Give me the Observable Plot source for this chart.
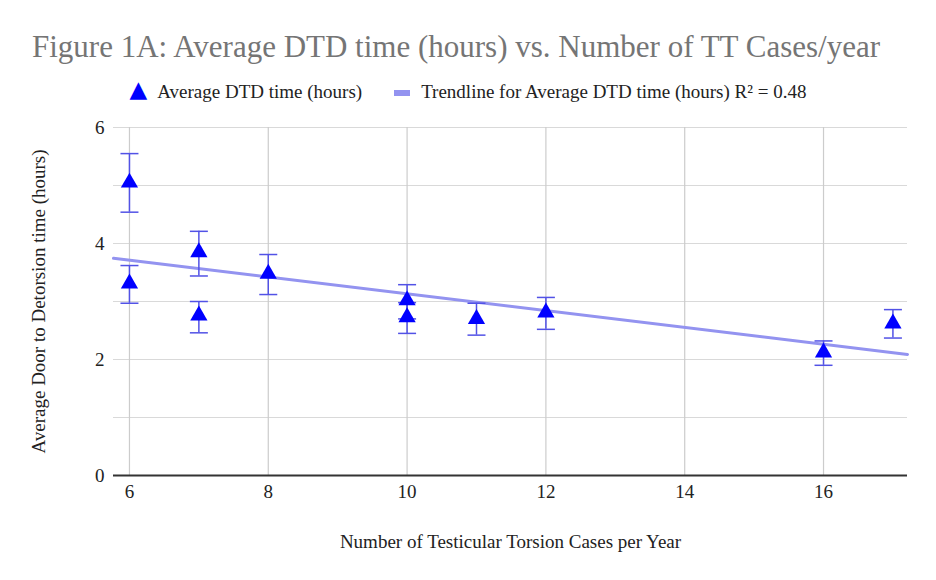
<!DOCTYPE html>
<html>
<head>
<meta charset="utf-8">
<script src="https://cdn.jsdelivr.net/npm/d3@7"></script>
<script src="https://cdn.jsdelivr.net/npm/@observablehq/plot@0.6"></script>
<style>
  html, body { margin: 0; padding: 0; background: #fff; }
  body { width: 936px; height: 580px; overflow: hidden; font-family: "Liberation Serif", serif; }
  .title { box-sizing: border-box; height: 72px; padding-top: 30px; line-height: 34px; font-size: 31px; color: #757575; text-align: center; padding-right: 24px; white-space: nowrap; }
  .legend { height: 36px; line-height: 36px; font-size: 19px; color: #222; text-align: center; white-space: nowrap; }
  .legend .tri { color: #0000ff; font-family: "DejaVu Sans"; font-size: 23px; margin-right: 10px; position: relative; top: -1px; }
  .legend .sw { display: inline-block; width: 16px; height: 6px; background: #9393f0; vertical-align: middle; margin: 0 11px 0 32px; position: relative; top: -1px; }
  #chart svg { display: block; }
  #chart svg text { font-family: "Liberation Serif", serif !important; }
</style>
</head>
<body>
<div class="title">Figure 1A: Average DTD time (hours) vs. Number of TT Cases/year</div>
<div class="legend"><span class="tri">▲</span>Average DTD time (hours)<span class="sw"></span>Trendline for Average DTD time (hours) R² = 0.48</div>
<div id="chart"></div>
<script>
// Data
const casesPerYear = [6, 6, 7, 7, 8, 10, 10, 11, 12, 16, 17];
const avgDTD       = [5.05, 3.31, 3.85, 2.76, 3.48, 3.02, 2.73, 2.70, 2.81, 2.12, 2.62];
const errLow       = [4.54, 2.97, 3.44, 2.46, 3.12, 2.70, 2.45, 2.42, 2.52, 1.90, 2.37];
const errHigh      = [5.55, 3.62, 4.21, 3.00, 3.81, 3.29, 2.98, 2.97, 3.07, 2.32, 2.86];
const xTicks = [6, 8, 10, 12, 14, 16];
const yTicks = [0, 2, 4, 6];
const yGrid  = [1, 2, 3, 4, 5, 6];
const xDomain = [5.77, 17.21];
const yDomain = [0, 6];

const points = casesPerYear.map((x, i) => ({x, y: avgDTD[i], lo: errLow[i], hi: errHigh[i]}));

// Least-squares trendline computed from the data
const mx = d3.mean(casesPerYear), my = d3.mean(avgDTD);
const slope = d3.sum(points, d => (d.x - mx) * (d.y - my)) / d3.sum(points, d => (d.x - mx) ** 2);
const intercept = my - slope * mx;
const trend = xDomain.map(x => ({x, y: intercept + slope * x}));

const errColor = "#5252e6";
const cap = { draw(context) { context.moveTo(-9, 0); context.lineTo(9, 0); } };

const chart = Plot.plot({
  width: 936,
  height: 472,
  marginTop: 19,
  marginRight: 29,
  marginBottom: 105,
  marginLeft: 113,
  style: { fontFamily: "'Liberation Serif', serif", fontSize: "19px", color: "#222", background: "#fff", overflow: "visible" },
  x: { domain: xDomain },
  y: { domain: yDomain },
  marks: [
    Plot.gridY(yGrid, { stroke: "#d9d9d9", strokeOpacity: 1, strokeWidth: 1.2 }),
    Plot.gridX(xTicks, { stroke: "#cccccc", strokeOpacity: 1, strokeWidth: 1.2 }),
    Plot.axisY(yTicks, { tickSize: 0, tickPadding: 9, fontSize: 19, tickFormat: d => String(d), label: "Average Door to Detorsion time (hours)", labelAnchor: "center", labelArrow: "none", labelOffset: 82 }),
    Plot.axisX(xTicks, { tickSize: 0, tickPadding: 9, fontSize: 19, tickFormat: d => String(d), label: "Number of Testicular Torsion Cases per Year", labelAnchor: "center", labelArrow: "none", labelOffset: 72 }),
    Plot.ruleY([0], { stroke: "#333", strokeWidth: 2 }),
    Plot.line(trend, { x: "x", y: "y", stroke: "#9393f0", strokeWidth: 3 }),
    Plot.ruleX(points, { x: "x", y1: "lo", y2: "hi", stroke: errColor, strokeWidth: 1.5 }),
    Plot.dot(points, { x: "x", y: "lo", symbol: cap, fill: "none", stroke: errColor, strokeWidth: 1.5 }),
    Plot.dot(points, { x: "x", y: "hi", symbol: cap, fill: "none", stroke: errColor, strokeWidth: 1.5 }),
    Plot.dot(points, { x: "x", y: "y", symbol: "triangle", fill: "#0000ff", stroke: "none", r: 6.4 })
  ]
});
document.getElementById("chart").appendChild(chart);
</script>
</body>
</html>
